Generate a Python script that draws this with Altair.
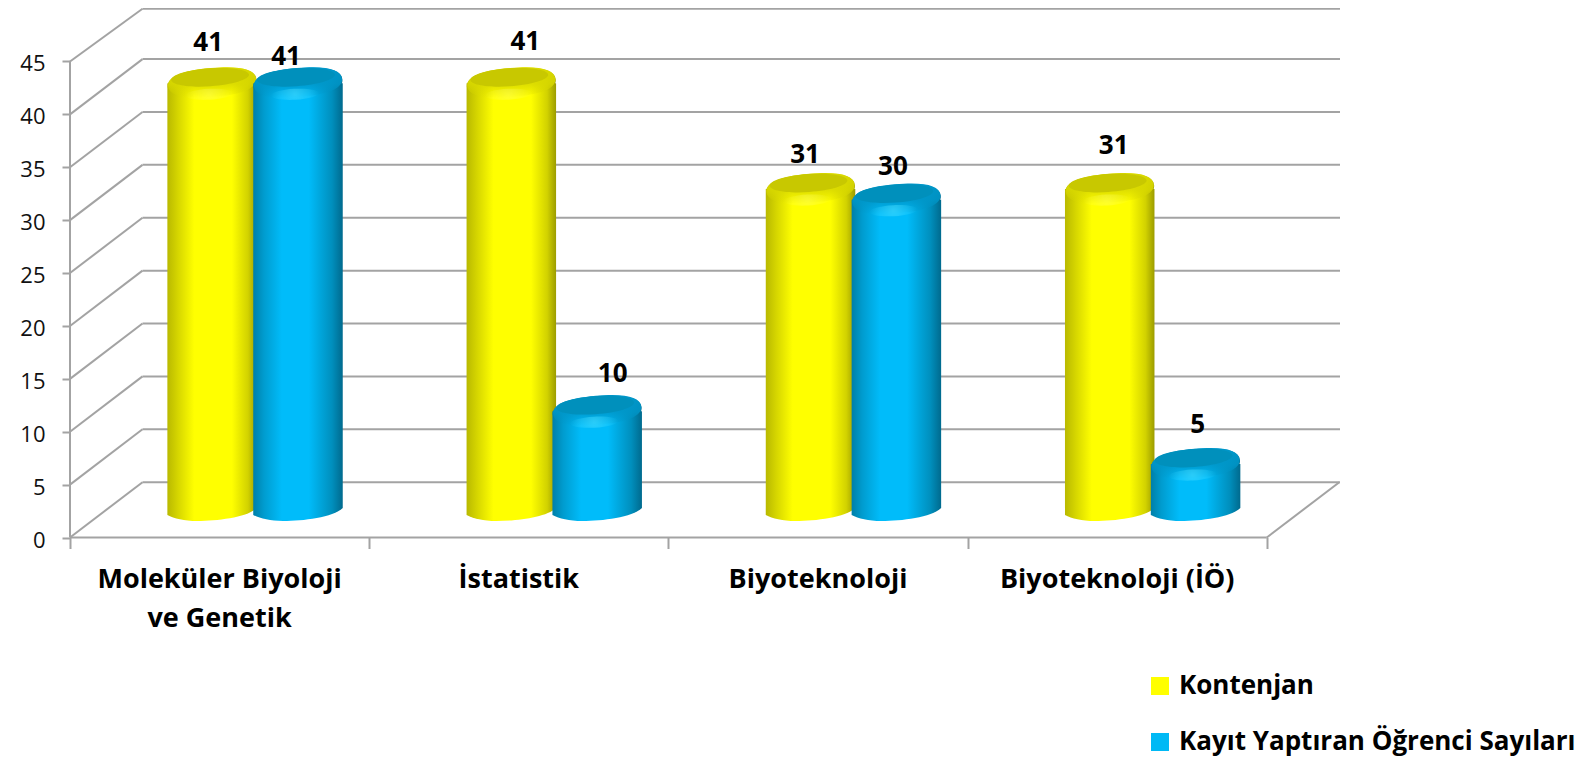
import math
import altair as alt
import pandas as pd

categories = ["Moleküler Biyoloji\nve Genetik", "İstatistik", "Biyoteknoloji", "Biyoteknoloji (İÖ)"]
series_names = ["Kontenjan", "Kayıt Yaptıran Öğrenci Sayıları"]
kontenjan = [41, 41, 31, 31]
kayit = [41, 10, 30, 5]
y_ticks = [0, 5, 10, 15, 20, 25, 30, 35, 40, 45]
x_ticks = [0, 1, 2, 3, 4]

# hand-placed data-label nudges (px): right, up from the value's height
nudge_kontenjan = [(-4, 52.8), (14, 53.8), (-5.5, 46.6), (4, 55.6)]
nudge_kayit = [(-12, 38.8), (15.5, 49.7), (-3.5, 45.2), (2, 51.6)]

# layout
PX_X = 299.2
PX_Y = 10.578
W, H = 1270, 529.5
X_MAX = W / PX_X
Y_MAX = H / PX_Y
DEPTH_X = 72.5 / PX_X
DEPTH_Y = 55.3 / PX_Y
TOP_LIMIT = 49.98
BAR_W = 89.5 / PX_X
HW = 44.75
OFFSET = [0.475, 0.762]
TOP_SHIFT = 1.94
BASE_ANCHOR = 2.46
BODY_BOTTOM = 2.80

INK = "#000000"
GRID = "#a3a3a3"
FONT = "Open Sans"
BASE_COL = ["#ffff00", "#00b9f5"]


def ell(rx, ry, tilt, cx=0.0, cy=0.0, k=0.5523):
    """closed rotated ellipse path in px (symbol size 4 gives scale 1)"""
    c, s = math.cos(math.radians(tilt)), math.sin(math.radians(tilt))

    def p(x, y):
        return f"{cx + x * c + y * s:.2f},{cy - x * s + y * c:.2f}"

    return (
        f"M{p(rx, 0)} C{p(rx, k * ry)} {p(k * rx, ry)} {p(0, ry)} "
        f"C{p(-k * rx, ry)} {p(-rx, k * ry)} {p(-rx, 0)} "
        f"C{p(-rx, -k * ry)} {p(-k * rx, -ry)} {p(0, -ry)} "
        f"C{p(k * rx, -ry)} {p(rx, -k * ry)} {p(rx, 0)} Z"
    )


def side(stops):
    return {
        "gradient": "linear", "x1": 0, "x2": 1, "y1": 0, "y2": 0,
        "stops": [{"offset": o, "color": c} for o, c in stops],
    }


def fade(rgb):
    return {
        "gradient": "linear", "x1": 0, "x2": 0, "y1": 0, "y2": 1,
        "stops": [
            {"offset": 0, "color": f"rgba({rgb},1)"},
            {"offset": 0.55, "color": f"rgba({rgb},0.85)"},
            {"offset": 1, "color": f"rgba({rgb},0)"},
        ],
    }


def glow(rgb, alpha):
    return {
        "gradient": "radial", "x1": 0.5, "y1": 0.5, "x2": 0.5, "y2": 0.5, "r1": 0, "r2": 0.5,
        "stops": [{"offset": 0, "color": f"rgba({rgb},{alpha})"}, {"offset": 1, "color": f"rgba({rgb},0)"}],
    }


GRADS = [
    side([(0, "#b9b900"), (0.12, "#d6d600"), (0.3, "#ffff00"), (0.72, "#ffff00"), (0.9, "#d2d200"), (1, "#9c9c00")]),
    side([(0, "#007fa8"), (0.12, "#009ccf"), (0.32, "#00bcfa"), (0.62, "#00bcfa"), (0.88, "#008fbd"), (1, "#006a8e")]),
]
MID = ["216,216,0", "0,150,200"]
DARK = ["#c8c800", "#0090bc"]
GLOW = [("255,255,130", 0.35), ("70,220,255", 0.6)]

rows = []
for s, vals, nudges in ((0, kontenjan, nudge_kontenjan), (1, kayit, nudge_kayit)):
    for i, v in enumerate(vals):
        c = i + OFFSET[s]
        rows.append({
            "s": s, "series": series_names[s], "v": v, "c": c,
            "l": c - BAR_W / 2, "r": c + BAR_W / 2,
            "top": v + TOP_SHIFT, "base": BASE_ANCHOR, "bottom": BODY_BOTTOM,
            "lx": c + nudges[i][0] / PX_X, "ly": v + nudges[i][1] / PX_Y,
        })
bars = pd.DataFrame(rows)

xs = alt.Scale(domain=[0, X_MAX], nice=False, zero=False)
ys = alt.Scale(domain=[0, Y_MAX], nice=False, zero=False)

ax_x = alt.Axis(values=x_ticks, labels=False, domain=False, grid=False, title=None,
                tickSize=11, tickWidth=2, tickColor=GRID)
ax_y = alt.Axis(values=y_ticks, domain=False, grid=False, title=None, tickSize=8, tickWidth=2,
                tickColor=GRID, labelFont=FONT, labelFontSize=22, labelColor="#111111",
                labelPadding=17, labelOffset=2.5)


def X(f, **k):
    return alt.X(f, type="quantitative", scale=xs, axis=ax_x, **k)


def Y(f, **k):
    return alt.Y(f, type="quantitative", scale=ys, axis=ax_y, **k)


rule = dict(color=GRID, strokeWidth=2)

wall = pd.DataFrame({"v": y_ticks})
wall["wy"] = [min(v + DEPTH_Y, TOP_LIMIT) for v in y_ticks]
wall["x0"], wall["x1"], wall["x2"] = 0.0, DEPTH_X, X_MAX

side_lines = alt.Chart(wall).mark_rule(**rule).encode(x=X("x0"), x2="x1:Q", y=Y("v"), y2="wy:Q")
back_lines = alt.Chart(wall).mark_rule(**rule).encode(x=X("x1"), x2="x2:Q", y=Y("wy"))

frame = pd.DataFrame({"a": [0.0, 0.0, 4.0], "b": [0.0, 4.0, 4 + DEPTH_X],
                      "c": [0.0, 0.0, 0.0], "d": [45.0, 0.0, DEPTH_Y]})
frame_lines = alt.Chart(frame).mark_rule(**rule).encode(x=X("a"), x2="b:Q", y=Y("c"), y2="d:Q")

legend_layer = alt.Chart(bars).mark_point(filled=True, opacity=1, size=4, shape="square").encode(
    x=X("c"),
    y=Y("base"),
    color=alt.Color(
        "series:N",
        scale=alt.Scale(domain=series_names, range=BASE_COL),
        legend=alt.Legend(
            title=None, orient="none", legendX=1077, legendY=665, symbolType="square",
            symbolSize=324, symbolStrokeWidth=0, labelFont=FONT, labelFontWeight="bold",
            labelFontSize=26, labelColor=INK, labelOffset=6, rowPadding=30, labelLimit=500,
            symbolOpacity=1,
        ),
    ),
)

BOTTOM_PATH = (
    f"M{HW},-3.5 L{-HW},-3.5 L{-HW},3.5 C-38,7 -28,9.5 -15,9.5 "
    f"C5,9.5 35,6 {HW},-3.5 Z"
)
CAP = ell(44.6, 15, 5, k=0.66)
SOFT = ell(44.2, 14.6, 5, cy=-0.8, k=0.66)
INNER = ell(39, 9, 4, cx=-2, cy=-6)
SHINE = ell(24, 5.5, 3, cx=-3, cy=11)


def cap_layer(df, path, fill):
    return alt.Chart(df).mark_point(
        shape=path, filled=True, fill=fill, opacity=1, size=4, strokeWidth=0
    ).encode(x=X("c"), y=Y("top"))


cyl = []
for s in (0, 1):
    df = bars[bars.s == s]
    cyl += [
        alt.Chart(df).mark_point(
            shape=BOTTOM_PATH, filled=True, fill=GRADS[s], opacity=1, size=4, strokeWidth=0
        ).encode(x=X("c"), y=Y("base")),
        alt.Chart(df).mark_bar(fill=GRADS[s], strokeWidth=0).encode(
            x=X("l"), x2="r:Q", y=Y("bottom"), y2="top:Q"
        ),
        cap_layer(df, CAP, GRADS[s]),
        cap_layer(df, SOFT, fade(MID[s])),
        cap_layer(df, INNER, DARK[s]),
        cap_layer(df, SHINE, glow(*GLOW[s])),
    ]

value_labels = alt.Chart(bars).mark_text(
    font=FONT, fontWeight="bold", fontSize=26, color=INK, baseline="alphabetic", align="center"
).encode(x=X("lx"), y=Y("ly"), text="v:Q")

cat_df = pd.DataFrame({"name": categories, "pos": [i + 0.5 for i in range(len(categories))]})
cat_labels = alt.Chart(cat_df).mark_text(
    font=FONT, fontWeight="bold", fontSize=27, color=INK, baseline="alphabetic", align="center",
    lineBreak="\n", lineHeight=39,
).encode(x=X("pos"), y=alt.value(580), text="name:N")

chart = alt.layer(
    side_lines, back_lines, frame_lines, legend_layer, *cyl, value_labels, cat_labels
).properties(
    width=W, height=H,
    padding={"left": 62, "top": 0, "right": 237, "bottom": 223},
    autosize=alt.AutoSizeParams(type="none"),
    background="#ffffff",
).configure_view(stroke=None)

chart.save("out.html", embed_options={"renderer": "svg", "actions": False})
